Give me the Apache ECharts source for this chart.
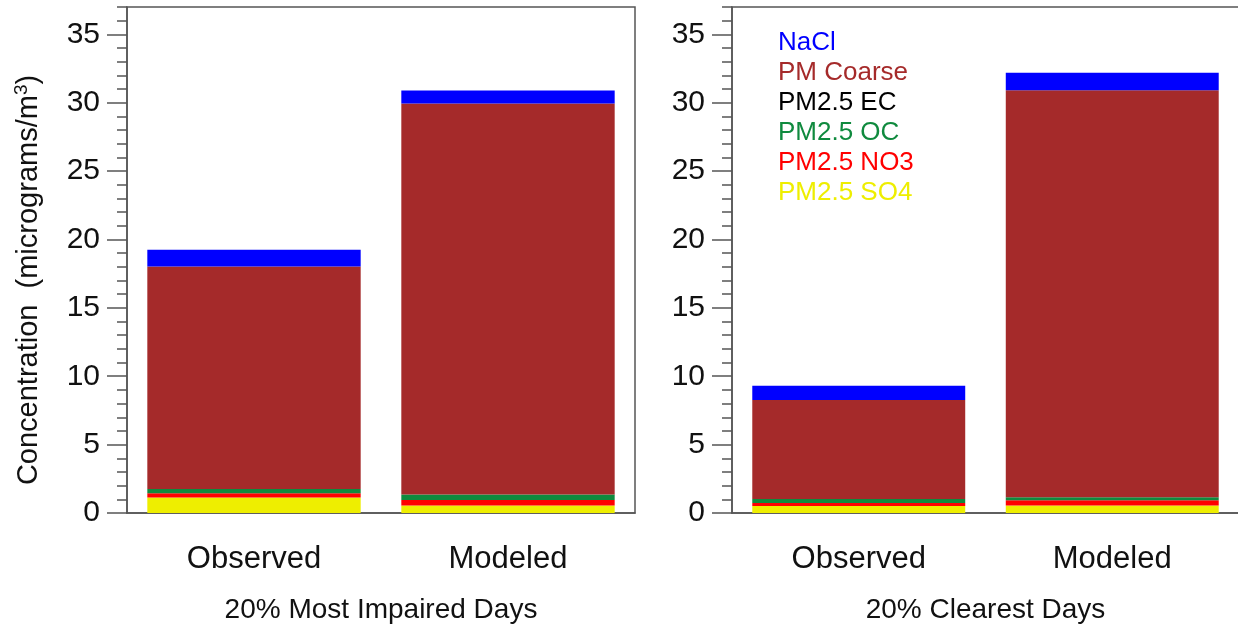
<!DOCTYPE html>
<html>
<head>
<meta charset="utf-8">
<script src="https://cdn.jsdelivr.net/npm/echarts@6/dist/echarts.min.js"></script>
<style>
html,body{margin:0;padding:0;background:#fff;}
#chart{width:1238px;height:627px;}
</style>
</head>
<body>
<div id="chart"></div>
<script>
var categories = ['Observed', 'Modeled'];
var panelTitles = ['20% Most Impaired Days', '20% Clearest Days'];
var yTickLabels = [0, 5, 10, 15, 20, 25, 30, 35];
var yMinorTicks = [0,1,2,3,4,5,6,7,8,9,10,11,12,13,14,15,16,17,18,19,20,21,22,23,24,25,26,27,28,29,30,31,32,33,34,35,36,37];
var yMax = 37;

// stacking order bottom -> top
var seriesNames = ['PM2.5 SO4', 'PM2.5 NO3', 'PM2.5 OC', 'PM2.5 EC', 'PM Coarse', 'NaCl'];
var seriesColors = ['#EEEE00', '#FF0000', '#0F8A3E', '#000000', '#A52A2A', '#0000FF'];
var legendOrder = ['NaCl', 'PM Coarse', 'PM2.5 EC', 'PM2.5 OC', 'PM2.5 NO3', 'PM2.5 SO4'];

// 20% Most Impaired Days [Observed, Modeled]
var impairedSO4 = [1.13, 0.54];
var impairedNO3 = [0.31, 0.41];
var impairedOC = [0.31, 0.40];
var impairedEC = [0, 0];
var impairedCoarse = [16.28, 28.60];
var impairedNaCl = [1.22, 0.95];

// 20% Clearest Days [Observed, Modeled]
var clearSO4 = [0.51, 0.54];
var clearNO3 = [0.22, 0.39];
var clearOC = [0.29, 0.22];
var clearEC = [0, 0];
var clearCoarse = [7.24, 29.77];
var clearNaCl = [1.05, 1.27];

var panelData = [
  [impairedSO4, impairedNO3, impairedOC, impairedEC, impairedCoarse, impairedNaCl],
  [clearSO4, clearNO3, clearOC, clearEC, clearCoarse, clearNaCl]
];

var FONT = "'Liberation Sans', Arial, sans-serif";
var AXIS_COLOR = '#555';
var TEXT_COLOR = '#111';

var grids = [
  {left: 127, top: 7, width: 508, height: 506},
  {left: 732, top: 7, width: 507, height: 506}
];

function tickAxis(gi, values, len) {
  return {
    gridIndex: gi, type: 'value', min: 0, max: yMax, interval: 1, position: 'left',
    axisLine: {show: false},
    axisTick: {show: true, length: len, customValues: values, lineStyle: {color: AXIS_COLOR, width: 1.5}},
    axisLabel: {show: false},
    splitLine: {show: false}
  };
}

var xAxes = [], yAxes = [], series = [];
grids.forEach(function (g, gi) {
  g.show = true; g.borderColor = AXIS_COLOR; g.borderWidth = 1.5; g.backgroundColor = 'transparent';
  g.outerBoundsMode = 'none'; g.containLabel = false;
  xAxes.push({
    gridIndex: gi, type: 'category', data: categories,
    axisLine: {lineStyle: {color: AXIS_COLOR, width: 1.5}},
    axisTick: {alignWithLabel: true, length: 17, lineStyle: {color: AXIS_COLOR, width: 1.5}},
    axisLabel: {fontSize: 31, fontFamily: FONT, color: TEXT_COLOR, margin: 31},
    name: panelTitles[gi], nameLocation: 'middle', nameGap: 83,
    nameTextStyle: {fontSize: 28, fontFamily: FONT, color: TEXT_COLOR}
  });
  var major = {
    gridIndex: gi, type: 'value', min: 0, max: yMax, interval: 5, position: 'left',
    axisLine: {show: true, lineStyle: {color: AXIS_COLOR, width: 1.5}},
    axisTick: {show: false},
    axisLabel: {fontSize: 30, fontFamily: FONT, color: TEXT_COLOR, margin: 27, customValues: yTickLabels},
    splitLine: {show: false}
  };
  if (gi === 0) {
    major.name = 'Concentration  (micrograms/m{sup|3})';
    major.nameLocation = 'middle';
    major.nameGap = 82;
    major.nameRotate = 90;
    major.nameTextStyle = {fontSize: 29, fontFamily: FONT, color: TEXT_COLOR, padding: [0, 40, 0, 0],
      rich: {sup: {fontSize: 19, fontFamily: FONT, color: TEXT_COLOR, verticalAlign: 'top', padding: [0, 0, 14, 0]}}};
  }
  yAxes.push(major);
  yAxes.push(tickAxis(gi, yMinorTicks, 10));
  yAxes.push(tickAxis(gi, yTickLabels, 20));
  seriesNames.forEach(function (name, si) {
    series.push({
      name: name, type: 'bar', stack: 'p' + gi,
      xAxisIndex: gi, yAxisIndex: gi * 3,
      barWidth: '84%',
      itemStyle: {color: seriesColors[si]},
      data: panelData[gi][si],
      silent: true, animation: false
    });
  });
});

var legendData = legendOrder.map(function (n) {
  return {name: n, textStyle: {color: seriesColors[seriesNames.indexOf(n)]}};
});

var chart = echarts.init(document.getElementById('chart'), null, {renderer: 'canvas'});
chart.setOption({
  animation: false,
  grid: grids,
  xAxis: xAxes,
  yAxis: yAxes,
  series: series,
  legend: {
    data: legendData, orient: 'vertical', left: 768, top: 25,
    icon: 'none', itemWidth: 0, itemHeight: 0, itemGap: 4,
    selectedMode: false,
    textStyle: {fontSize: 26, fontFamily: FONT, lineHeight: 26}
  }
});
</script>
</body>
</html>
